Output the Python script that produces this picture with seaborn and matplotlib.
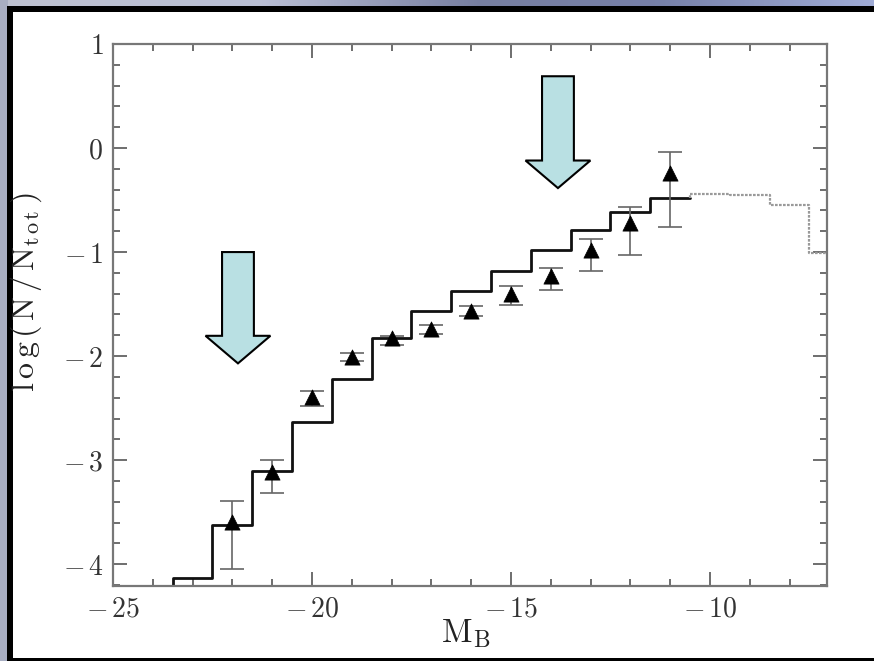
import numpy as np
import pandas as pd
import matplotlib
matplotlib.use("Agg")
import matplotlib.pyplot as plt
from matplotlib.patches import Rectangle, FancyArrow
from matplotlib.ticker import MultipleLocator, FuncFormatter
import seaborn as sns

# ---------------- data ----------------
# solid model histogram (bin edges and log values), drawn as steps
hist_edges = [-23.5, -22.5, -21.5, -20.5, -19.5, -18.5, -17.5, -16.5,
              -15.5, -14.5, -13.5, -12.5, -11.5, -10.5]
hist_vals = [-4.6, -4.13, -3.62, -3.10, -2.635, -2.22, -1.83, -1.565,
             -1.378, -1.18, -0.978, -0.788, -0.615, -0.478]
# dotted continuation
dot_edges = [-10.5, -9.5, -8.5, -7.5, -6.5]
dot_vals = [-0.478, -0.44, -0.455, -0.548, -1.007]

# observed points with asymmetric error bars
mag_pts = [-22, -21, -20, -19, -18, -17, -16, -15, -14, -13, -12, -11]
logn_pts = [-3.59, -3.11, -2.39, -2.01, -1.83, -1.74, -1.565, -1.40,
            -1.23, -0.98, -0.72, -0.24]
logn_hi = [-3.39, -3.00, -2.34, -1.97, -1.81, -1.70, -1.52, -1.33,
           -1.15, -0.87, -0.57, -0.04]
logn_lo = [-4.05, -3.32, -2.48, -2.05, -1.89, -1.79, -1.615, -1.51,
           -1.36, -1.18, -1.03, -0.76]

# annotation arrows: (x, top y, tip y)
arrow_x = [-21.86, -13.82]
arrow_top = [-1.0, 0.69]
arrow_tip = [-2.07, -0.385]

x_ticks_major = [-25, -20, -15, -10]
y_ticks_major = [1, 0, -1, -2, -3, -4]

# ---------------- style ----------------
sns.set_theme(style="white")
plt.rcParams["font.family"] = ["DejaVu Serif"]
plt.rcParams["mathtext.fontset"] = "cm"

W, H = 874, 661
fig = plt.figure(figsize=(W / 100, H / 100), dpi=100)

# background gradient, black frame, white panel
bg = fig.add_axes([0, 0, 1, 1], zorder=-10)
xs = np.linspace(0, 1, W)
stops_x = [0.0, 0.3, 0.55, 0.75, 1.0]
stops_c = np.array([[190, 194, 208], [185, 190, 212], [118, 126, 160],
                    [118, 128, 168], [160, 172, 214]]) / 255.0
grad = np.stack([np.interp(xs, stops_x, stops_c[:, k]) for k in range(3)], axis=-1)
img = np.tile(grad[None, :, :], (H, 1, 1))
img[:, :8, :] = np.array([168, 174, 194]) / 255.0
bg.imshow(img, aspect="auto", extent=[0, 1, 0, 1])
bg.set_axis_off()
fig.patches.append(Rectangle((7 / W, -0.01), 1.0, (H - 6) / H + 0.01,
                             transform=fig.transFigure, facecolor="black",
                             edgecolor="none", zorder=-5))
fig.patches.append(Rectangle((13 / W, 3 / H), 1.0, (658 - 12) / H,
                             transform=fig.transFigure, facecolor="white",
                             edgecolor="none", zorder=-4))

ax = fig.add_axes([113 / W, 75 / H, (827 - 113) / W, (586 - 44) / H])
ax.set_facecolor("white")

# histogram steps
sns.lineplot(x=hist_edges, y=hist_vals, ax=ax, color="#111111", lw=2.0,
             drawstyle="steps-pre", estimator=None, sort=False)
sns.lineplot(x=dot_edges, y=dot_vals, ax=ax, color="#9a9a9a", lw=1.6,
             drawstyle="steps-pre", estimator=None, sort=False,
             linestyle=(0, (1.2, 0.6)))

# error bars
yerr = [np.array(logn_pts) - np.array(logn_lo), np.array(logn_hi) - np.array(logn_pts)]
ax.errorbar(mag_pts, logn_pts, yerr=yerr, fmt="none", ecolor="#666666",
            elinewidth=1.2, capsize=8.5, capthick=1.2, zorder=3)
df_pts = pd.DataFrame({"M": mag_pts, "logN": logn_pts})
sns.scatterplot(data=df_pts, x="M", y="logN", ax=ax, marker="^", s=120,
                color="black", edgecolor="black", linewidth=0.5, zorder=4)

# arrows
for xa, ya, yt in zip(arrow_x, arrow_top, arrow_tip):
    ax.add_patch(FancyArrow(xa, ya, 0, yt - ya, width=0.8, head_width=1.63,
                            head_length=0.265, length_includes_head=True,
                            facecolor="#b9e0e3", edgecolor="black", lw=1.5,
                            zorder=5))

# axes
ax.set_xlim(-25, -7.06)
ax.set_ylim(-4.21, 1)
ax.set_xticks(x_ticks_major)
ax.set_yticks(y_ticks_major)
ax.xaxis.set_minor_locator(MultipleLocator(1))
ax.yaxis.set_minor_locator(MultipleLocator(0.2))


def tick_fmt(v, p):
    if v < 0:
        return r"$-\,%g$" % abs(v)
    return r"$%g$" % v


fmt = FuncFormatter(tick_fmt)
ax.xaxis.set_major_formatter(fmt)
ax.yaxis.set_major_formatter(fmt)
ax.tick_params(which="both", direction="in", top=True, right=True,
               bottom=True, left=True, color="#555555", width=1.2)
ax.tick_params(which="major", length=10, labelsize=20, pad=7, labelcolor="#333333")
ax.tick_params(which="minor", length=5)
for s in ax.spines.values():
    s.set_color("#777777")
    s.set_linewidth(1.6)

ax.set_xlabel(r"$\mathrm{M_B}$", fontsize=24, color="#222222")
ax.set_ylabel(r"$\mathrm{l\,o\,g\,(\,N\,/\,N_{t\,o\,t}\,)}$", fontsize=23,
              color="#222222")
ax.xaxis.set_label_coords(0.494, -0.057)
ax.yaxis.set_label_coords(-0.097, 0.542)

fig.savefig("out.png", dpi=100)
